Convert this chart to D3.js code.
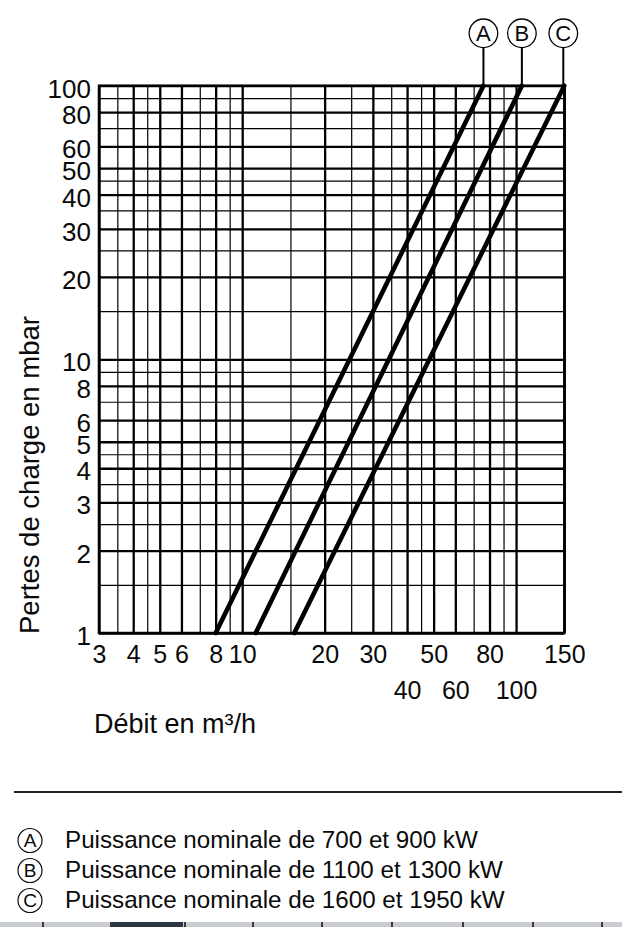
<!DOCTYPE html>
<html>
<head>
<meta charset="utf-8">
<script src="https://cdn.jsdelivr.net/npm/d3@7"></script>
<style>
  html, body { margin: 0; padding: 0; background: #fff; }
  svg { display: block; }
  text { font-family: "Liberation Sans", Arial, sans-serif; fill: #0a0a0a; }
</style>
</head>
<body>
<svg id="chart" width="622" height="927"></svg>
<script>
// ---------- data ----------
const xGridValues = [3, 3.5, 4, 4.5, 5, 6, 7, 8, 9, 10, 15, 20, 25, 30, 35, 40, 45, 50, 60, 70, 80, 90, 100, 150];
const xMajorValues = [3, 4, 5, 6, 8, 10, 20, 30, 40, 50, 60, 80, 100, 150];
const xLabelsRow1 = [3, 4, 5, 6, 8, 10, 20, 30, 50, 80, 150];
const xLabelsRow2 = [40, 60, 100];
const yGridValues = [1, 1.5, 2, 2.5, 3, 3.5, 4, 4.5, 5, 6, 7, 8, 9, 10, 15, 20, 25, 30, 35, 40, 45, 50, 60, 70, 80, 90, 100];
const yMajorValues = [1, 2, 3, 4, 5, 6, 8, 10, 20, 30, 40, 50, 60, 80, 100];
const yLabels = [1, 2, 3, 4, 5, 6, 8, 10, 20, 30, 40, 50, 60, 80, 100];

const seriesNames = ["A", "B", "C"];
const seriesA = [[8, 1], [76, 100]];
const seriesB = [[11.2, 1], [105, 100]];
const seriesC = [[15.5, 1], [150, 100]];
const legendTexts = [
  "Puissance nominale de 700 et 900 kW",
  "Puissance nominale de 1100 et 1300 kW",
  "Puissance nominale de 1600 et 1950 kW"
];
const xTitle = "Débit en m³/h";
const yTitle = "Pertes de charge en mbar";

// ---------- drawing ----------
const FONT = "'Liberation Sans', Arial, sans-serif";
const svg = d3.select("#chart");
const x = d3.scaleLog().domain([3, 150]).range([99, 564.3]);
const y = d3.scaleLog().domain([1, 100]).range([633, 85.7]);
const plotH = y(1) - y(100);
const plotW = x(150) - x(3);

// vertical grid
const gx = svg.append("g").attr("transform", `translate(0,${y(1)})`)
  .call(d3.axisBottom(x).tickValues(xGridValues).tickSize(-plotH).tickFormat(""));
gx.select(".domain").remove();
gx.selectAll(".tick line").attr("stroke", "#000")
  .attr("stroke-width", d => xMajorValues.includes(d) ? 2.3 : 1.2);

// horizontal grid
const gy = svg.append("g").attr("transform", `translate(${x(3)},0)`)
  .call(d3.axisLeft(y).tickValues(yGridValues).tickSize(-plotW).tickFormat(""));
gy.select(".domain").remove();
gy.selectAll(".tick line").attr("stroke", "#000")
  .attr("stroke-width", d => yMajorValues.includes(d) ? 2.3 : 1.2);

// frame
svg.append("rect").attr("x", x(3)).attr("y", y(100)).attr("width", plotW).attr("height", plotH)
  .attr("fill", "none").attr("stroke", "#000").attr("stroke-width", 2.5);

// y labels
const yl = svg.append("g").attr("transform", `translate(${x(3)},0)`)
  .call(d3.axisLeft(y).tickValues(yLabels).tickSize(0).tickPadding(8).tickFormat(d3.format("d")));
yl.select(".domain").remove();
yl.selectAll("text").attr("font-size", 26).attr("dy", "0.44em").style("font-family", FONT).attr("fill", "#0a0a0a");

// x labels (two rows)
function xLabelRow(vals, pad) {
  const g = svg.append("g").attr("transform", `translate(0,${y(1)})`)
    .call(d3.axisBottom(x).tickValues(vals).tickSize(0).tickPadding(pad).tickFormat(d3.format("d")));
  g.select(".domain").remove();
  g.selectAll("text").attr("font-size", 25).style("font-family", FONT).attr("fill", "#0a0a0a");
}
xLabelRow(xLabelsRow1, 12);
xLabelRow(xLabelsRow2, 48);

// curves
const line = d3.line().x(d => x(d[0])).y(d => y(d[1]));
const allSeries = [seriesA, seriesB, seriesC];
svg.append("g").selectAll("path").data(allSeries).join("path")
  .attr("d", line).attr("fill", "none").attr("stroke", "#000")
  .attr("stroke-width", 4.6).attr("stroke-linecap", "round");

// top markers
const topY = 33.3, topR = 14.3;
const tm = svg.append("g").selectAll("g").data(allSeries).join("g")
  .attr("transform", d => `translate(${Math.min(x(d[1][0]), x(150) - 1)},0)`);
tm.append("line").attr("x1", 0).attr("x2", 0).attr("y1", topY + topR).attr("y2", y(100))
  .attr("stroke", "#000").attr("stroke-width", 2);
tm.append("circle").attr("cx", 0).attr("cy", topY).attr("r", topR)
  .attr("fill", "#fff").attr("stroke", "#000").attr("stroke-width", 1.3);
tm.append("text").attr("x", 0).attr("y", topY).attr("dy", "0.36em").attr("text-anchor", "middle")
  .attr("font-size", 22).text((d, i) => seriesNames[i]);

// axis titles
svg.append("text").attr("x", 94).attr("y", 733).attr("font-size", 27).text(xTitle);
svg.append("text").attr("transform", "translate(39,634) rotate(-90)").attr("font-size", 27.5).text(yTitle);

// separator
svg.append("line").attr("x1", 14).attr("x2", 622).attr("y1", 792).attr("y2", 792)
  .attr("stroke", "#222").attr("stroke-width", 2.2);

// legend
const lg = svg.append("g").selectAll("g").data(legendTexts).join("g")
  .attr("transform", (d, i) => `translate(0,${848 + i * 30})`);
lg.append("circle").attr("cx", 30).attr("cy", -7.5).attr("r", 12)
  .attr("fill", "#fff").attr("stroke", "#111").attr("stroke-width", 1.2);
lg.append("text").attr("x", 30).attr("y", -7.5).attr("dy", "0.36em").attr("text-anchor", "middle")
  .attr("font-size", 19).text((d, i) => seriesNames[i]);
lg.append("text").attr("x", 65).attr("y", 0).attr("font-size", 24.2).text(d => d);

// bottom strip (window taskbar fragment)
const strip = svg.append("g");
strip.append("rect").attr("x", 0).attr("y", 922).attr("width", 622).attr("height", 5).attr("fill", "#c9cdd2");
strip.append("rect").attr("x", 111).attr("y", 922).attr("width", 72).attr("height", 5).attr("fill", "#2d3743");
[42, 110, 184, 252, 321, 391, 462, 532, 601].forEach(sx => {
  strip.append("rect").attr("x", sx).attr("y", 922).attr("width", 2).attr("height", 5).attr("fill", "#3a3a3a");
});
</script>
</body>
</html>
